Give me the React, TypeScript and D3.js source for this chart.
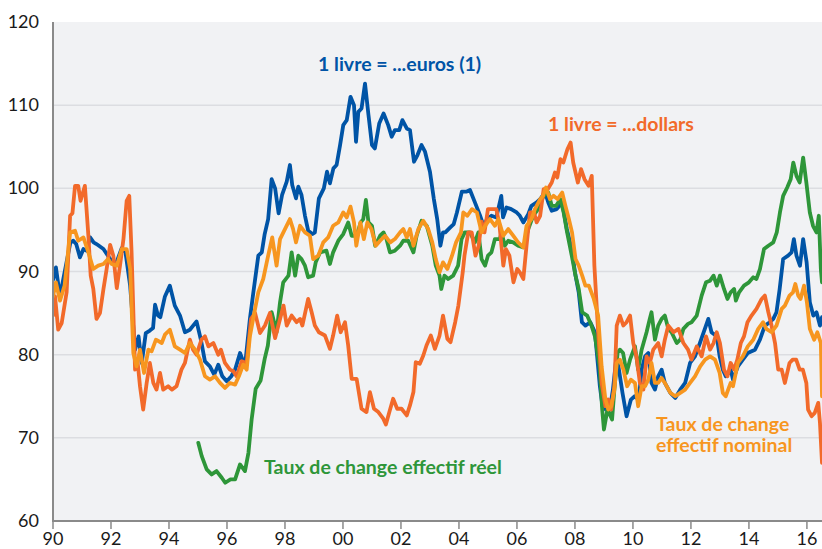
import React from 'react';
import * as d3 from 'd3';

// tick values and labels
const yTicks = [60, 70, 80, 90, 100, 110, 120];
const gridValues = [70, 80, 90, 100, 110];
const xTicks = [1990, 1992, 1994, 1996, 1998, 2000, 2002, 2004, 2006, 2008, 2010, 2012, 2014, 2016];
const xTickLabels = ['90', '92', '94', '96', '98', '00', '02', '04', '06', '08', '10', '12', '14', '16'];

// [year, index] pairs
const euros: [number, number][] = [
  [1990.0, 89], [1990.1, 90.5], [1990.24, 87], [1990.35, 89], [1990.6, 93.5], [1990.7, 93.7], [1990.8, 93.3],
  [1990.93, 91.7], [1991.05, 92.7], [1991.15, 92.5], [1991.28, 94.1], [1991.4, 93.5], [1991.5, 93.3], [1991.74, 92.7],
  [1991.97, 91.5], [1992.1, 91], [1992.2, 91.2], [1992.37, 92.8], [1992.5, 92.3], [1992.66, 88.3], [1992.83, 80.6],
  [1992.95, 82.2], [1993.06, 79], [1993.2, 82.6], [1993.34, 82.9], [1993.45, 83.2], [1993.52, 86], [1993.62, 84.7],
  [1993.7, 84.5], [1993.86, 87], [1994.03, 88.3], [1994.2, 85.9], [1994.38, 84.7], [1994.55, 82.7], [1994.72, 83],
  [1994.95, 84], [1995.1, 81.8], [1995.24, 79.2], [1995.41, 78.6], [1995.56, 77.6], [1995.7, 78.8], [1995.84, 77.4],
  [1995.99, 76.8], [1996.15, 77.4], [1996.28, 78.2], [1996.45, 80.2], [1996.62, 78.6], [1996.79, 84.3], [1996.91, 87.5],
  [1997.08, 91.9], [1997.2, 92.3], [1997.3, 94.5], [1997.42, 96.3], [1997.54, 101.1], [1997.66, 100], [1997.78, 97],
  [1997.9, 99.2], [1998.06, 100.8], [1998.17, 102.8], [1998.25, 100.4], [1998.38, 98.8], [1998.46, 100.2], [1998.57, 99.2],
  [1998.69, 96.7], [1998.8, 94.9], [1998.95, 94.5], [1999.03, 94.7], [1999.17, 98.8], [1999.34, 100], [1999.45, 102],
  [1999.55, 100.6], [1999.67, 102.4], [1999.78, 102.8], [1999.9, 105.2], [2000.01, 107.6], [2000.13, 108.2], [2000.26, 111],
  [2000.38, 110], [2000.45, 105.6], [2000.53, 109.2], [2000.64, 109.6], [2000.76, 112.6], [2000.88, 108.8], [2001.0, 105.2],
  [2001.1, 104.8], [2001.25, 107.8], [2001.4, 109], [2001.56, 107.6], [2001.68, 106.2], [2001.79, 107], [2001.94, 107],
  [2002.05, 108.2], [2002.2, 107.2], [2002.31, 107], [2002.45, 103.2], [2002.57, 104], [2002.71, 105.2], [2002.83, 104.4],
  [2003.0, 102], [2003.13, 98.8], [2003.25, 96.3], [2003.36, 93.1], [2003.45, 94.7], [2003.53, 94.7], [2003.7, 95.3],
  [2003.82, 95.7], [2003.93, 97.1], [2004.1, 99.6], [2004.25, 99.6], [2004.38, 99.8], [2004.54, 98.4], [2004.72, 96.8],
  [2004.85, 95.5], [2004.97, 96.3], [2005.12, 96.7], [2005.29, 96.5], [2005.46, 99.1], [2005.52, 96.5], [2005.64, 97.7],
  [2005.8, 97.5], [2005.99, 97.1], [2006.1, 96.7], [2006.22, 95.9], [2006.39, 96.9], [2006.5, 97.9], [2006.68, 98.3],
  [2006.8, 98.7], [2006.97, 99.5], [2007.08, 98.3], [2007.2, 97.3], [2007.37, 97.5], [2007.56, 98.3], [2007.72, 95.1],
  [2007.89, 92.7], [2008.0, 89.9], [2008.13, 87.5], [2008.24, 83.9], [2008.36, 83.5], [2008.53, 83.9], [2008.69, 82.7],
  [2008.86, 76.2], [2008.95, 73.8], [2009.06, 73.4], [2009.2, 73.4], [2009.31, 75.8], [2009.42, 79.4], [2009.5, 78.6],
  [2009.64, 75.4], [2009.78, 72.6], [2009.93, 74.6], [2010.06, 75], [2010.2, 74.6], [2010.3, 78.2], [2010.42, 79.8],
  [2010.53, 80.2], [2010.64, 76.6], [2010.76, 75.8], [2010.87, 77.4], [2010.99, 78.2], [2011.1, 76.6], [2011.29, 75.4],
  [2011.46, 74.8], [2011.63, 75.8], [2011.8, 76.6], [2011.97, 79], [2012.14, 79.8], [2012.31, 81.4], [2012.48, 83.1],
  [2012.6, 84.3], [2012.71, 82.7], [2012.89, 82.2], [2012.99, 79.8], [2013.1, 78.2], [2013.2, 77.4], [2013.37, 78.2],
  [2013.45, 77], [2013.62, 78.6], [2013.79, 79.4], [2013.96, 80.2], [2014.21, 80.6], [2014.38, 81.8], [2014.55, 83.5],
  [2014.72, 83.9], [2014.84, 84.3], [2014.95, 85.1], [2015.06, 87.9], [2015.18, 91.5], [2015.35, 91.9], [2015.47, 92.3],
  [2015.55, 93.9], [2015.64, 91.9], [2015.76, 90.7], [2015.87, 93.9], [2015.99, 91.1], [2016.1, 86.3], [2016.22, 84.7],
  [2016.33, 85.1], [2016.45, 83.5], [2016.52, 84.5],
];

const dollars: [number, number][] = [
  [1990.0, 84.7], [1990.07, 87], [1990.18, 83], [1990.3, 83.8], [1990.47, 87.5], [1990.59, 96.7], [1990.67, 97],
  [1990.76, 100.3], [1990.87, 100.3], [1990.95, 98.5], [1991.1, 100.3], [1991.22, 94.3], [1991.3, 89.5], [1991.39, 87.9],
  [1991.5, 84.3], [1991.62, 85], [1991.74, 87.9], [1991.85, 90.3], [1991.97, 93.2], [1992.08, 91.9], [1992.2, 88],
  [1992.31, 90.7], [1992.43, 93.9], [1992.54, 98.5], [1992.63, 99.1], [1992.71, 92.3], [1992.83, 78.2], [1992.91, 79.4],
  [1993.0, 76.2], [1993.11, 73.4], [1993.23, 76.6], [1993.34, 79], [1993.46, 76.6], [1993.57, 75.8], [1993.69, 77.8],
  [1993.8, 75.8], [1993.97, 76.2], [1994.1, 75.8], [1994.26, 76.2], [1994.43, 78.2], [1994.55, 79], [1994.72, 81.8],
  [1994.83, 80.6], [1994.95, 80], [1995.12, 81.8], [1995.24, 82.2], [1995.36, 81], [1995.53, 81.4], [1995.7, 80],
  [1995.79, 80.6], [1995.93, 79], [1996.1, 78.2], [1996.22, 78], [1996.33, 77.4], [1996.51, 79.2], [1996.68, 79],
  [1996.83, 84.3], [1996.97, 85], [1997.14, 82.6], [1997.31, 83.5], [1997.48, 85], [1997.66, 82], [1997.83, 84.3],
  [1997.95, 85.9], [1998.06, 83.5], [1998.23, 84.7], [1998.4, 83.9], [1998.52, 84.3], [1998.6, 83.5], [1998.8, 86.7],
  [1998.92, 85.1], [1999.03, 83.5], [1999.17, 82.7], [1999.38, 82.3], [1999.55, 80.7], [1999.66, 82.3], [1999.8, 84.7],
  [1999.92, 82.7], [2000.07, 83.9], [2000.18, 81.1], [2000.3, 77.1], [2000.47, 77.1], [2000.64, 73.5], [2000.81, 73.1],
  [2000.93, 75.5], [2001.07, 73.5], [2001.22, 73.1], [2001.39, 72.3], [2001.48, 71.6], [2001.6, 73.1], [2001.73, 74.7],
  [2001.87, 73.5], [2002.02, 73.5], [2002.2, 72.7], [2002.31, 73.9], [2002.43, 75.5], [2002.51, 79.1], [2002.65, 78.9],
  [2002.77, 79.9], [2002.88, 81.1], [2003.03, 82.3], [2003.17, 80.7], [2003.33, 82.3], [2003.45, 84.7], [2003.6, 81.9],
  [2003.71, 81.5], [2003.87, 83.9], [2003.98, 85.9], [2004.13, 89.9], [2004.19, 91.9], [2004.32, 94.7], [2004.44, 94.7],
  [2004.57, 91.9], [2004.68, 93.1], [2004.78, 96], [2004.88, 94.7], [2005.0, 97.5], [2005.14, 97.5], [2005.29, 97.5],
  [2005.4, 95.5], [2005.53, 90.7], [2005.62, 92.7], [2005.74, 91.9], [2005.88, 88.7], [2006.01, 90.3], [2006.1, 89.9],
  [2006.22, 89.1], [2006.33, 93.1], [2006.45, 97.1], [2006.59, 97.1], [2006.68, 95.9], [2006.8, 96.7], [2006.92, 99.9],
  [2007.03, 99.7], [2007.2, 100.7], [2007.31, 101.9], [2007.39, 101.3], [2007.5, 103.5], [2007.6, 103.1], [2007.74, 104.7],
  [2007.85, 105.5], [2007.94, 103.1], [2008.1, 100.7], [2008.21, 102.3], [2008.33, 101.1], [2008.47, 100.3], [2008.58, 101.5],
  [2008.67, 90.7], [2008.8, 82.7], [2008.92, 76.6], [2009.05, 73.8], [2009.15, 74.6], [2009.25, 73.4], [2009.36, 76.2],
  [2009.44, 83.5], [2009.55, 84.7], [2009.67, 83.5], [2009.78, 83.9], [2009.9, 84.7], [2010.01, 81.4], [2010.12, 79.8],
  [2010.24, 76.6], [2010.36, 75.8], [2010.47, 79.8], [2010.58, 79], [2010.7, 80.6], [2010.87, 81.4], [2010.99, 79.8],
  [2011.1, 81.8], [2011.22, 83.5], [2011.4, 82.7], [2011.57, 83.1], [2011.74, 81.4], [2011.9, 80.6], [2012.02, 79.4],
  [2012.2, 81], [2012.37, 79.8], [2012.52, 82.2], [2012.66, 80.6], [2012.78, 81.4], [2012.89, 82.7], [2013.0, 81.4],
  [2013.14, 78.2], [2013.26, 77.4], [2013.37, 79], [2013.49, 78.2], [2013.6, 79.4], [2013.72, 81.4], [2013.83, 82.2],
  [2013.95, 83.9], [2014.09, 84.7], [2014.26, 85.5], [2014.44, 86.7], [2014.55, 87.1], [2014.67, 85.1], [2014.78, 83.5],
  [2014.9, 81.4], [2015.01, 78.2], [2015.13, 78.2], [2015.24, 76.6], [2015.4, 79], [2015.51, 79.4], [2015.63, 79.4],
  [2015.75, 78.2], [2015.86, 78.2], [2015.98, 76.6], [2016.04, 73.4], [2016.16, 72.6], [2016.27, 73], [2016.39, 74.2],
  [2016.45, 71.8], [2016.52, 67],
];

const nominal: [number, number][] = [
  [1990.0, 87], [1990.1, 88.7], [1990.24, 86.5], [1990.4, 88.3], [1990.59, 94.7], [1990.76, 94.9], [1990.87, 93.7],
  [1991.05, 94.1], [1991.22, 92.3], [1991.39, 90.3], [1991.56, 90.7], [1991.74, 90.9], [1991.9, 91.5], [1992.02, 90.9],
  [1992.2, 90.7], [1992.37, 92.7], [1992.54, 92.7], [1992.66, 90.3], [1992.77, 80.2], [1992.88, 78.6], [1993.0, 80.6],
  [1993.14, 77.8], [1993.29, 80.6], [1993.4, 80.4], [1993.55, 81.8], [1993.75, 81.4], [1993.86, 82.4], [1994.03, 83],
  [1994.2, 81], [1994.38, 80.6], [1994.55, 80.2], [1994.72, 81.4], [1994.9, 80.6], [1995.07, 79.4], [1995.24, 77.4],
  [1995.41, 77], [1995.59, 77.4], [1995.76, 76.6], [1995.93, 76], [1996.1, 76.6], [1996.28, 76.4], [1996.41, 77.4],
  [1996.56, 78.8], [1996.68, 78.2], [1996.79, 82.2], [1996.94, 85], [1997.08, 87.5], [1997.25, 89.1], [1997.42, 91.9],
  [1997.56, 94.1], [1997.71, 90.7], [1997.83, 93.9], [1998.0, 95.1], [1998.17, 96.3], [1998.28, 95.1], [1998.38, 93.5],
  [1998.52, 95.5], [1998.69, 94.7], [1998.86, 94.3], [1998.97, 91.5], [1999.15, 91.9], [1999.32, 93.5], [1999.49, 94.1],
  [1999.66, 95.5], [1999.84, 95.9], [2000.01, 97.1], [2000.13, 96.5], [2000.26, 97.8], [2000.38, 95.9], [2000.46, 93.1],
  [2000.6, 95.9], [2000.72, 93.9], [2000.84, 95.9], [2000.98, 95.1], [2001.13, 93.1], [2001.28, 93.7], [2001.45, 94.3],
  [2001.63, 93.5], [2001.79, 93.9], [2001.97, 94.7], [2002.08, 95.1], [2002.2, 94.1], [2002.31, 95.1], [2002.43, 93.1],
  [2002.6, 95.1], [2002.77, 96.1], [2002.94, 95.1], [2003.08, 93.5], [2003.2, 91.5], [2003.33, 89.9], [2003.45, 91.1],
  [2003.6, 90.3], [2003.76, 91.9], [2003.9, 93.5], [2004.07, 94.7], [2004.15, 97.1], [2004.29, 96.7], [2004.45, 97.5],
  [2004.62, 97.1], [2004.78, 94.7], [2004.9, 95.5], [2005.07, 96.3], [2005.24, 95.5], [2005.36, 96.3], [2005.53, 94.3],
  [2005.7, 95.1], [2005.87, 94.3], [2006.04, 93.5], [2006.22, 92.9], [2006.33, 95.5], [2006.5, 96.3], [2006.62, 97.5],
  [2006.8, 98.7], [2006.9, 99.1], [2007.0, 100.1], [2007.14, 98.7], [2007.26, 99.1], [2007.4, 98.7], [2007.56, 99.5],
  [2007.67, 97.9], [2007.79, 96.3], [2007.9, 94.7], [2008.02, 91.5], [2008.13, 90.7], [2008.25, 89.5], [2008.36, 88.3],
  [2008.48, 88.3], [2008.65, 86.7], [2008.8, 84.7], [2008.92, 78.6], [2009.05, 74.6], [2009.15, 73.4], [2009.25, 73.8],
  [2009.36, 75.8], [2009.44, 79], [2009.55, 79.4], [2009.67, 78.2], [2009.8, 76.2], [2009.93, 77], [2010.07, 76.6],
  [2010.18, 73.8], [2010.3, 76.2], [2010.42, 76.2], [2010.53, 77], [2010.64, 79], [2010.76, 76.6], [2010.87, 76.6],
  [2010.99, 77.2], [2011.1, 76.6], [2011.29, 75.4], [2011.46, 75], [2011.63, 75.4], [2011.8, 75.8], [2011.97, 76.6],
  [2012.14, 77.4], [2012.32, 78.6], [2012.49, 79.4], [2012.66, 79.8], [2012.83, 79.4], [2012.99, 77.8], [2013.1, 75.4],
  [2013.2, 75], [2013.37, 76.6], [2013.45, 76.2], [2013.62, 79], [2013.79, 79.8], [2013.96, 81], [2014.15, 81.8],
  [2014.32, 83.1], [2014.49, 83.9], [2014.6, 83.1], [2014.78, 82.7], [2014.95, 83.5], [2015.13, 85.5], [2015.24, 85.9],
  [2015.4, 87.1], [2015.52, 87.5], [2015.6, 88.5], [2015.7, 87.1], [2015.78, 86.7], [2015.9, 88.3], [2016.0, 86.3],
  [2016.1, 83.1], [2016.25, 81.8], [2016.36, 82.7], [2016.48, 81.4], [2016.52, 75],
];

const real: [number, number][] = [
  [1995.01, 69.4], [1995.13, 67.8], [1995.3, 66.2], [1995.47, 65.6], [1995.64, 66], [1995.82, 65.2], [1995.94, 64.6],
  [1996.12, 65], [1996.28, 65], [1996.45, 66.8], [1996.62, 66], [1996.74, 68.2], [1996.85, 72.2], [1996.99, 75.9],
  [1997.16, 76.9], [1997.3, 79.5], [1997.41, 81.1], [1997.54, 85.1], [1997.71, 82.7], [1997.83, 86.3], [1997.94, 88.7],
  [1998.12, 89.5], [1998.23, 92.3], [1998.35, 89.5], [1998.46, 91.9], [1998.57, 91.5], [1998.69, 90.7], [1998.8, 89.3],
  [1998.97, 89.5], [1999.06, 91.1], [1999.21, 92.3], [1999.43, 92.5], [1999.55, 90.9], [1999.66, 92.3], [1999.84, 93.7],
  [2000.01, 94.5], [2000.18, 95.9], [2000.3, 94.3], [2000.47, 94.3], [2000.61, 95.9], [2000.7, 96.3], [2000.79, 98.6],
  [2000.88, 95.9], [2001.0, 95.5], [2001.11, 93.1], [2001.28, 94.3], [2001.4, 94.7], [2001.5, 93.9], [2001.62, 92.3],
  [2001.79, 92.5], [2001.97, 93.1], [2002.08, 93.7], [2002.25, 93.7], [2002.43, 92.3], [2002.54, 94.3], [2002.71, 96.1],
  [2002.89, 95.5], [2003.08, 93.1], [2003.2, 90.7], [2003.33, 89.5], [2003.39, 87.9], [2003.5, 89.5], [2003.63, 89.1],
  [2003.8, 89.5], [2003.97, 90.7], [2004.09, 93.9], [2004.2, 94.7], [2004.38, 94.7], [2004.55, 93.5], [2004.67, 94.7],
  [2004.78, 91.5], [2004.9, 90.7], [2005.0, 91.9], [2005.12, 92.3], [2005.24, 93.9], [2005.41, 93.9], [2005.47, 94.7],
  [2005.58, 93.1], [2005.7, 93.7], [2005.87, 93.5], [2006.04, 93.1], [2006.22, 92.9], [2006.39, 95.1], [2006.56, 96.7],
  [2006.73, 97.5], [2006.92, 99.1], [2007.08, 99.5], [2007.2, 97.9], [2007.35, 97.9], [2007.5, 98.7], [2007.61, 97.1],
  [2007.73, 94.7], [2007.89, 91.9], [2008.02, 89.5], [2008.13, 87.9], [2008.25, 85.1], [2008.42, 84.7], [2008.57, 83.5],
  [2008.69, 82.2], [2008.85, 78.6], [2008.94, 73.4], [2009.0, 71], [2009.12, 73.4], [2009.28, 72.2], [2009.36, 75.8],
  [2009.47, 80.2], [2009.55, 80.6], [2009.66, 80.2], [2009.78, 77.8], [2009.9, 79.4], [2010.07, 81], [2010.18, 78.2],
  [2010.3, 80.6], [2010.47, 82.7], [2010.58, 84.3], [2010.64, 85.1], [2010.76, 81.8], [2010.87, 83.5], [2010.99, 84.3],
  [2011.1, 84.7], [2011.22, 83.1], [2011.33, 82.7], [2011.51, 81.4], [2011.63, 81.8], [2011.74, 83.1], [2011.9, 83.7],
  [2012.02, 83.9], [2012.2, 84.7], [2012.37, 87.1], [2012.52, 88.7], [2012.66, 88.9], [2012.78, 89.5], [2012.89, 88.3],
  [2013.0, 89.5], [2013.14, 87.9], [2013.26, 86.7], [2013.37, 87.5], [2013.49, 87.9], [2013.55, 86.5], [2013.66, 87.5],
  [2013.83, 88.3], [2014.0, 88.7], [2014.15, 89.3], [2014.26, 89.1], [2014.38, 90.3], [2014.52, 92.7], [2014.67, 93.1],
  [2014.84, 93.5], [2014.96, 94.7], [2015.07, 97.1], [2015.18, 99.1], [2015.32, 100.1], [2015.44, 101.1], [2015.53, 103.1],
  [2015.64, 101.5], [2015.75, 100.7], [2015.87, 103.7], [2015.98, 100.7], [2016.1, 97.1], [2016.21, 95.5], [2016.33, 94.7],
  [2016.41, 96.7], [2016.48, 90.3], [2016.52, 88.7],
];

const BLUE = '#0054a6';
const RED = '#f26a2a';
const GREEN = '#2e9639';
const AMBER = '#f7961f';

export default function App() {
  const width = 822;
  const height = 549;
  const left = 53;
  const top = 22;
  const bottom = 521;

  const x = d3.scaleLinear().domain([1990, 2016.52]).range([left, width]);
  const y = d3.scaleLinear().domain([60, 120]).range([bottom, top]);

  const line = d3.line<[number, number]>()
    .x(d => x(d[0]))
    .y(d => y(d[1]))
    .curve(d3.curveLinear);

  const series = [
    { data: euros, color: BLUE },
    { data: real, color: GREEN },
    { data: dollars, color: RED },
    { data: nominal, color: AMBER },
  ];

  const font = 'Lato, "Open Sans", sans-serif';

  return (
    <svg width={width} height={height} style={{ position: 'absolute', left: 0, top: 0 }} fontFamily={font}>
      <defs>
        <clipPath id="plot">
          <rect x={left} y={top} width={width - left} height={bottom - top} />
        </clipPath>
      </defs>
      <rect x={0} y={0} width={width} height={height} fill="#ffffff" />
      <rect x={left} y={top} width={width - left} height={bottom - top} fill="#f1f2f4" />
      {gridValues.map(v => (
        <line key={v} x1={left} x2={width} y1={y(v)} y2={y(v)} stroke="#dcdde1" strokeWidth={1.5} />
      ))}
      <g clipPath="url(#plot)">
        {series.map((s, i) => (
          <path key={i} d={line(s.data) ?? ''} fill="none" stroke={s.color} strokeWidth={3.8}
            strokeLinejoin="round" strokeLinecap="round" />
        ))}
      </g>
      <line x1={left} x2={left} y1={top} y2={bottom} stroke="#8a8a8a" strokeWidth={2} />
      <line x1={left - 1} x2={width} y1={bottom} y2={bottom} stroke="#8a8a8a" strokeWidth={2} />
      {xTicks.map((t, i) => (
        <g key={t}>
          <line x1={x(t)} x2={x(t)} y1={bottom} y2={bottom + 8} stroke="#8a8a8a" strokeWidth={1.5} />
          <text x={x(t)} y={545} textAnchor="middle" fontSize={18} fill="#1a1a1a">{xTickLabels[i]}</text>
        </g>
      ))}
      {yTicks.map(v => (
        <text key={v} x={39} y={y(v) + 6} textAnchor="end" fontSize={18} fill="#1a1a1a">{v}</text>
      ))}
      <g fontWeight="bold" fontSize={19.5}>
        <text x={318} y={71} fill={BLUE}>1 livre = ...euros (1)</text>
        <text x={548} y={131} fill={RED}>1 livre = ...dollars</text>
        <text x={264} y={474} fill={GREEN}>Taux de change effectif réel</text>
        <text x={656} y={431} fill={AMBER}>Taux de change</text>
        <text x={656} y={452} fill={AMBER}>effectif nominal</text>
      </g>
    </svg>
  );
}
